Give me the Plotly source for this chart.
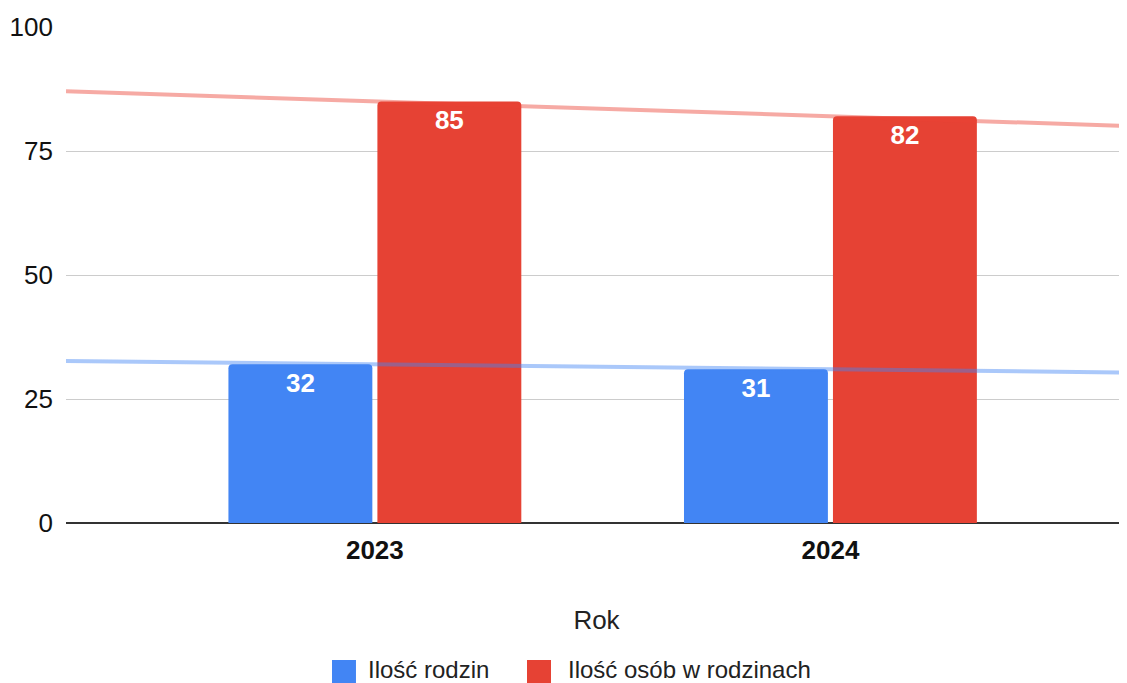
import numpy as np
import plotly.graph_objects as go

years = [2023, 2024]
rodziny = [32, 31]
osoby = [85, 82]
series_names = ["Ilość rodzin", "Ilość osób w rodzinach"]
colors = ["#4285F4", "#E64234"]
trend_colors = ["rgba(66,133,244,0.45)", "rgba(234,67,53,0.45)"]
y_ticks = [0, 25, 50, 75, 100]

x_range = [2022.322, 2024.651]
FONT = "Arial, Liberation Sans, sans-serif"

fig = go.Figure()
for name, vals, col in zip(series_names, [rodziny, osoby], colors):
    fig.add_trace(go.Bar(
        x=years, y=vals, name=name, showlegend=False,
        marker=dict(color=col, cornerradius=4, line=dict(width=0)),
        text=[str(v) for v in vals], textposition="inside", insidetextanchor="end",
        textfont=dict(color="white", size=26, family=FONT, weight="bold"),
        textangle=0,
    ))

for vals, col in zip([rodziny, osoby], trend_colors):
    slope, icpt = np.polyfit(years, vals, 1)
    xs = np.array(x_range)
    fig.add_trace(go.Scatter(x=xs, y=slope * xs + icpt, mode="lines",
                             line=dict(color=col, width=4), showlegend=False,
                             hoverinfo="skip"))

# manual legend (square swatches + labels) below the plot, in paper coords
legend_sq_x = [(0.2507, 0.2733), (0.4345, 0.4571)]
legend_txt_x = [0.2828, 0.4713]
for (x0, x1), tx, name, col in zip(legend_sq_x, legend_txt_x, series_names, colors):
    fig.add_shape(type="rect", xref="paper", yref="paper", x0=x0, x1=x1,
                  y0=-0.2762, y1=-0.3226, fillcolor=col, line=dict(width=0),
                  layer="above")
    fig.add_annotation(x=tx, y=-0.2944, xref="paper", yref="paper", text=name,
                       showarrow=False, xanchor="left", yanchor="middle",
                       font=dict(size=24, color="#222", family=FONT))

fig.update_layout(
    width=1119, height=675,
    margin=dict(l=58, r=0, t=19, b=160, autoexpand=False),
    plot_bgcolor="white", paper_bgcolor="white",
    barmode="group", bargap=0.346, bargroupgap=0.034,
    font=dict(family=FONT, color="#222"),
    showlegend=False,
)
fig.update_xaxes(range=x_range, tickvals=years, ticktext=[str(y) for y in years],
                 tickfont=dict(size=26, weight="bold", color="#111", family=FONT),
                 showgrid=False, zeroline=False, showline=False, ticks="",
                 ticklabelstandoff=9, automargin=False,
                 title=dict(text="Rok", font=dict(size=26, color="#222", family=FONT), standoff=46),
                 fixedrange=True)
fig.update_yaxes(range=[0, 100], tickvals=y_ticks, tickfont=dict(size=26, color="#111", family=FONT),
                 showgrid=True, gridcolor="#cccccc", gridwidth=1,
                 zeroline=True, zerolinecolor="#333333", zerolinewidth=2,
                 ticks="", ticklabelstandoff=12, showline=False, automargin=False,
                 fixedrange=True)

fig.write_html("out.html")
